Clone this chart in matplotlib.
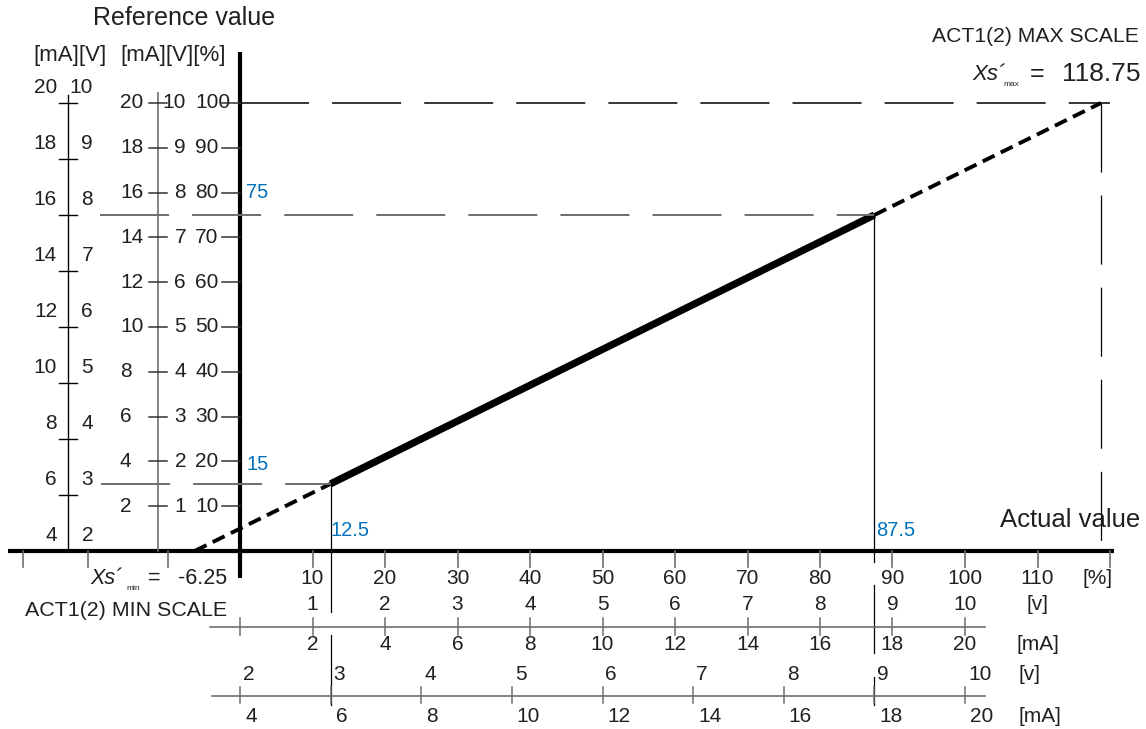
import numpy as np
from matplotlib import pyplot as plt

plt.rcParams['font.family'] = ['Liberation Sans', 'DejaVu Sans']
plt.rcParams['lines.scale_dashes'] = False

# ---- values -----------------------------------------------------------
XS_MIN = -6.25            # actual value where reference = 0 %
XS_MAX = 118.75           # actual value where reference = 100 %
ACT_LO, ACT_HI = 12.5, 87.5
REF_LO, REF_HI = 15, 75

PCT_TICKS = [10, 20, 30, 40, 50, 60, 70, 80, 90, 100, 110]
NEG_TICKS = [-30, -21, -10]
ROW_V1 = [1, 2, 3, 4, 5, 6, 7, 8, 9, 10]            # 0..10 V
ROW_MA1 = [2, 4, 6, 8, 10, 12, 14, 16, 18, 20]      # 0..20 mA
ROW_V2 = [2, 3, 4, 5, 6, 7, 8, 9, 10]               # 2..10 V
ROW_MA2 = [4, 6, 8, 10, 12, 14, 16, 18, 20]         # 4..20 mA

LEFT_MA = [4, 6, 8, 10, 12, 14, 16, 18, 20]         # outer left scale
LEFT_V = [2, 3, 4, 5, 6, 7, 8, 9, 10]
REF_MA = [2, 4, 6, 8, 10, 12, 14, 16, 18, 20]       # inner left scale
REF_V = [1, 2, 3, 4, 5, 6, 7, 8, 9, 10]
REF_PCT = [10, 20, 30, 40, 50, 60, 70, 80, 90, 100]

# ---- layout: pixel <-> percent ----------------------------------------
X0, XS = 240, 7.25     # px of 0 %, px per %
Y0, YS = 551, 4.48


def px_x(p):
    return (p - X0) / XS


def px_y(p):
    return (Y0 - p) / YS


def live_zero(v, lo, hi):
    return (np.asarray(v, float) - lo) / (hi - lo) * 100


TXT = '#231f20'
GRAY = '#6d6e71'
BLUE = '#0072bc'
FS = 15
FS_BLUE = 14.5
DASH = (0, (49.7, 16.6))

fig = plt.figure(figsize=(11.46, 7.29), dpi=100)
ax = fig.add_axes([0, 0, 1, 1])
ax.set_xlim(px_x(0), px_x(1146))
ax.set_ylim(px_y(729), px_y(0))
ax.axis('off')

# main axes
ax.plot([px_x(8), px_x(1114)], [0, 0], color='black', lw=3, solid_capstyle='butt')
ax.plot([0, 0], [px_y(578), px_y(52)], color='black', lw=3, solid_capstyle='butt')

# characteristic
ax.plot([ACT_LO, ACT_HI], [REF_LO, REF_HI], color='black', lw=5.2, solid_capstyle='butt')
ax.plot([XS_MIN, ACT_LO], [0, REF_LO], color='black', lw=2.8, ls=(0, (9.5, 5)))
ax.plot([ACT_HI, XS_MAX], [REF_HI, 100], color='black', lw=2.8, ls=(0, (9.5, 5)))

# helper lines
ax.plot([0, px_x(1110)], [100, 100], color='black', lw=1.1, ls=DASH)
ax.plot([px_x(100), ACT_HI], [REF_HI, REF_HI], color=GRAY, lw=1.4, ls=DASH)
ax.plot([px_x(101), ACT_LO], [REF_LO, REF_LO], color=GRAY, lw=1.4, ls=DASH)
ax.plot([XS_MAX, XS_MAX], [100, px_y(545)], color='black', lw=0.9, ls=DASH)
for y_a, y_b in [(REF_HI, px_y(562)), (px_y(585), px_y(653)), (px_y(677), px_y(705))]:
    ax.plot([ACT_HI, ACT_HI], [y_a, y_b], color='black', lw=0.9)
for y_a, y_b in [(REF_LO, px_y(612)), (px_y(635), px_y(705))]:
    ax.plot([ACT_LO, ACT_LO], [y_a, y_b], color='black', lw=0.9)

# ---- left scales -------------------------------------------------------
ax.plot([px_x(68), px_x(68)], [0, px_y(95)], color='black', lw=1)
for ma, v in zip(LEFT_MA, LEFT_V):
    lvl = live_zero(v, 2, 10)
    if v > 2:
        ax.plot([px_x(59), px_x(77)], [lvl, lvl], color='black', lw=1)
    ax.text(px_x(57), lvl + 3.4, str(ma), ha='right', va='center', fontsize=FS, color=TXT)
    ax.text(px_x(93), lvl + 3.4, str(v), ha='right', va='center', fontsize=FS, color=TXT)

ax.plot([px_x(158), px_x(158)], [0, px_y(93)], color=GRAY, lw=1.2)
for ma, v, p in zip(REF_MA, REF_V, REF_PCT):
    ax.plot([px_x(149), px_x(167)], [p, p], color='#333333', lw=1.1)
    ax.plot([px_x(222), 0], [p, p], color='#333333', lw=1.1)
    ax.text(px_x(120), p, str(ma), ha='left', va='center', fontsize=FS, color=TXT)
    ax.text(px_x(186), p, str(v), ha='right', va='center', fontsize=FS, color=TXT)
    ax.text(px_x(195), p, str(p), ha='left', va='center', fontsize=FS, color=TXT)

ax.text(px_x(93), px_y(18), 'Reference value', ha='left', va='center', fontsize=18, color=TXT)
ax.text(px_x(33), px_y(55), '[mA][V]', ha='left', va='center', fontsize=16, color=TXT)
ax.text(px_x(120), px_y(55), '[mA][V][%]', ha='left', va='center', fontsize=16, color=TXT)

# blue markers
ax.text(px_x(246), REF_HI + 5, f'{REF_HI}', ha='left', va='center', fontsize=FS_BLUE, color=BLUE)
ax.text(px_x(246), REF_LO + 4.3, f'{REF_LO}', ha='left', va='center', fontsize=FS_BLUE, color=BLUE)
ax.text(ACT_LO, px_y(530), f'{ACT_LO}', ha='left', va='center', fontsize=FS_BLUE, color=BLUE)
ax.text(ACT_HI + 0.3, px_y(530), f'{ACT_HI}', ha='left', va='center', fontsize=FS_BLUE, color=BLUE)

# ---- bottom scales -----------------------------------------------------
for t in NEG_TICKS + PCT_TICKS + [120]:
    ax.plot([t, t], [0, px_y(567)], color=GRAY, lw=1.2)
for t in PCT_TICKS:
    ax.text(t, px_y(578), str(t), ha='center', va='center', fontsize=FS, color=TXT)
ax.text(px_x(1098), px_y(578), '[%]', ha='center', va='center', fontsize=FS, color=TXT)

pos1 = live_zero(ROW_V1, 0, 10)
for v, ma, p in zip(ROW_V1, ROW_MA1, pos1):
    ax.text(p, px_y(605), str(v), ha='center', va='center', fontsize=FS, color=TXT)
    ax.text(p, px_y(645), str(ma), ha='center', va='center', fontsize=FS, color=TXT)
ax.plot([px_x(210), px_x(985)], [px_y(627), px_y(627)], color=GRAY, lw=1.2)
for p in np.concatenate([[0], pos1]):
    ax.plot([p, p], [px_y(618), px_y(635)], color=GRAY, lw=1.1)
ax.text(px_x(1037), px_y(605), '[v]', ha='center', va='center', fontsize=FS, color=TXT)
ax.text(px_x(1038), px_y(645), '[mA]', ha='center', va='center', fontsize=FS, color=TXT)

pos2 = live_zero(ROW_V2, 2, 10)
ax.plot([px_x(212), px_x(985)], [px_y(696), px_y(696)], color=GRAY, lw=1.2)
for v, ma, p in zip(ROW_V2, ROW_MA2, pos2):
    ax.plot([p, p], [px_y(687), px_y(703)], color=GRAY, lw=1.1)
    ax.text(p + 3 / XS, px_y(674), str(v), ha='left', va='center', fontsize=FS, color=TXT)
    ax.text(p + 5 / XS, px_y(717), str(ma), ha='left', va='center', fontsize=FS, color=TXT)
ax.text(px_x(1030), px_y(674), '[v]', ha='center', va='center', fontsize=FS, color=TXT)
ax.text(px_x(1040), px_y(717), '[mA]', ha='center', va='center', fontsize=FS, color=TXT)

ax.text(px_x(1140), px_y(520), 'Actual value', ha='right', va='center', fontsize=18.5, color=TXT)

# ---- scale end annotations --------------------------------------------
ax.text(px_x(1139), px_y(37), 'ACT1(2) MAX SCALE', ha='right', va='center', fontsize=15.2, color=TXT)
ax.text(px_x(1141), px_y(74), f'{XS_MAX}', ha='right', va='center', fontsize=19, color=TXT)
ax.text(px_x(1037), px_y(74), '=', ha='center', va='center', fontsize=18, color=TXT)
ax.text(px_x(972), px_y(74), 'Xs\u00b4', ha='left', va='center', fontsize=16, style='italic', color=TXT)
ax.text(px_x(1011), px_y(84), 'max', ha='center', va='center', fontsize=6, color=TXT)

ax.text(px_x(227), px_y(578), f'{XS_MIN}', ha='right', va='center', fontsize=15.5, color=TXT)
ax.text(px_x(154), px_y(578), '=', ha='center', va='center', fontsize=15.5, color=TXT)
ax.text(px_x(90), px_y(578), 'Xs\u00b4', ha='left', va='center', fontsize=15.5, style='italic', color=TXT)
ax.text(px_x(133), px_y(588), 'min', ha='center', va='center', fontsize=6, color=TXT)
ax.text(px_x(227), px_y(611), 'ACT1(2) MIN SCALE', ha='right', va='center', fontsize=15.4, color=TXT)

fig.savefig('out.png', dpi=100)
plt.close(fig)
